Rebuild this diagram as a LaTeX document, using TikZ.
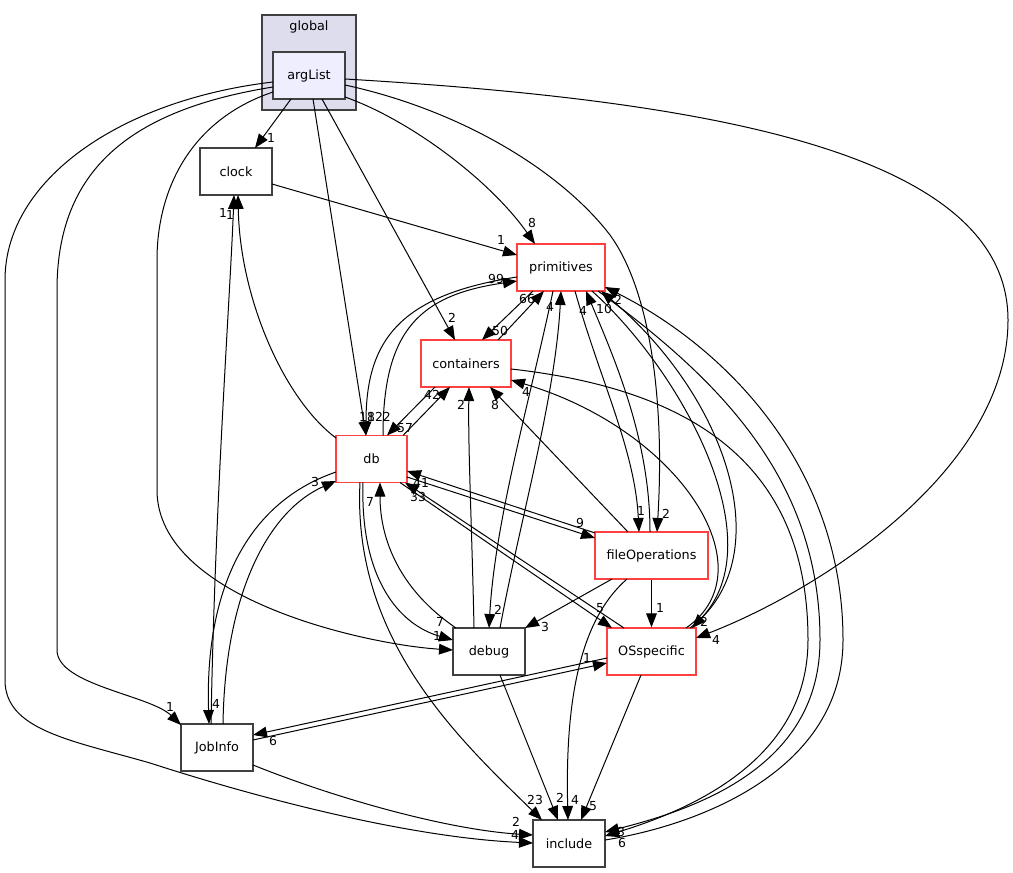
\documentclass[tikz,border=0pt]{standalone}
\usepackage{fontspec}
\setmainfont{DejaVu Sans}
\usetikzlibrary{arrows.meta,calc}
\definecolor{nodeborder}{HTML}{404040}
\definecolor{redborder}{HTML}{FF4040}
\definecolor{clusterfill}{HTML}{DDDDEE}
\definecolor{argfill}{HTML}{EEEEFF}
\begin{document}
\begin{tikzpicture}[x=0.75pt,y=-0.75pt,
  dirbox/.style={draw=nodeborder,line width=1pt,fill=white,minimum height=35.25pt,inner sep=0pt,font=\fontsize{9.6}{11}\selectfont},
  redbox/.style={dirbox,draw=redborder},
  lbl/.style={font=\fontsize{9.3}{10}\selectfont,inner sep=0pt},
  dep/.style={line width=0.75pt,-{Triangle[length=10.5pt,width=8pt]}}]
\useasboundingbox[fill=white] (0,0) rectangle (1013,873);
% cluster
\node[draw=nodeborder,line width=1pt,fill=clusterfill,minimum width=70.5pt,minimum height=71.25pt,inner sep=0pt] (global) at (309,62.5) {};
\node[font=\fontsize{9.6}{11}\selectfont,inner sep=0pt] (globallabel) at (309,27) {global};
% nodes
\node[dirbox,fill=argfill,minimum width=54pt] (argList) at (309,75.5) {argList};
\node[dirbox,minimum width=54pt] (clock) at (236,171.5) {clock};
\node[redbox,minimum width=66pt] (primitives) at (561,267.5) {primitives};
\node[redbox,minimum width=67.5pt] (containers) at (466,363.5) {containers};
\node[redbox,minimum width=53.25pt] (db) at (371.5,459) {db};
\node[redbox,minimum width=84.75pt] (fileOperations) at (651.5,555.5) {fileOperations};
\node[dirbox,minimum width=54pt] (debug) at (489,651.5) {debug};
\node[redbox,minimum width=66.75pt] (OSspecific) at (651.5,651.5) {OSspecific};
\node[dirbox,minimum width=54pt] (JobInfo) at (217,747.5) {JobInfo};
\node[dirbox,minimum width=54pt] (include) at (569,843.5) {include};
% edges from argList
\draw[dep] ($(argList)+(-18,23.5)$) -- ($(clock)+(19,-23.5)$);
\draw[dep] ($(argList)+(36,21.5)$) .. controls (410,120) and (490,180) .. ($(primitives)+(-26,-23.5)$);
\draw[dep] ($(argList)+(13,23.5)$) -- ($(containers)+(-11,-23.5)$);
\draw[dep] ($(argList)+(4,23.5)$) -- ($(db)+(-5.5,-23.5)$);
\draw[dep] ($(argList)+(36,9.5)$) .. controls (460,110) and (560,170) .. (610,235) .. controls (650,290) and (665,400) .. ($(fileOperations)+(5.5,-23.5)$);
\draw[dep] ($(argList)+(36,3.5)$) .. controls (700,100) and (1008,150) .. (1008,320) .. controls (1008,470) and (820,590) .. ($(OSspecific)+(44.5,-13.5)$);
\draw[dep] ($(argList)+(-36,16.5)$) .. controls (190,120) and (157,190) .. (157,260) -- (157,490) .. controls (157,600) and (370,645) .. ($(debug)+(-36,-1.5)$);
\draw[dep] ($(argList)+(-36,11.5)$) .. controls (130,110) and (57,170) .. (57,290) -- (57,650) .. controls (57,685) and (150,695) .. ($(JobInfo)+(-36,-22.5)$);
\draw[dep] ($(argList)+(-36,6.5)$) .. controls (120,100) and (5,180) .. (5,280) -- (5,680) .. controls (5,730) and (70,740) .. (150,763) .. controls (280,805) and (420,838) .. ($(include)+(-36,-0.5)$);
% clock
\draw[dep] ($(clock)+(36,12.5)$) -- ($(primitives)+(-44,-12.5)$);
% primitives / containers / db
\draw[dep] ($(containers)+(32,-23.5)$) -- ($(primitives)+(-17,23.5)$);
\draw[dep] ($(primitives)+(-28,23.5)$) -- ($(containers)+(16,-23.5)$);
\draw[dep] ($(db)+(11.5,-23.5)$) .. controls (383,330) and (420,295) .. ($(primitives)+(-44,13.5)$);
\draw[dep] ($(primitives)+(-44,9.5)$) .. controls (400,295) and (366,340) .. ($(db)+(-5.5,-23.5)$);
\draw[dep] ($(db)+(-35.5,-21)$) .. controls (285,400) and (240,300) .. ($(clock)+(2,23.5)$);
\draw[dep] ($(JobInfo)+(-6,-23.5)$) .. controls (215,500) and (230,300) .. ($(clock)+(-2,23.5)$);
\draw[dep] ($(containers)+(-31,23.5)$) -- ($(db)+(15.5,-23.5)$);
\draw[dep] ($(db)+(31.5,-23.5)$) -- ($(containers)+(-16,23.5)$);
\draw[dep] ($(debug)+(-15,-23.5)$) .. controls (472,530) and (468,450) .. ($(containers)+(3,23.5)$);
\draw[dep] ($(fileOperations)+(-23.5,-23.5)$) -- ($(containers)+(24,23.5)$);
\draw[dep] ($(OSspecific)+(34.5,-23.5)$) .. controls (770,570) and (680,430) .. ($(containers)+(45,16.5)$);
\draw[dep] ($(containers)+(45,5.5)$) .. controls (700,390) and (808,470) .. (808,640) .. controls (808,760) and (690,810) .. ($(include)+(36,-7.5)$);
\draw[dep] ($(primitives)+(37,23.5)$) .. controls (720,380) and (820,480) .. (820,640) .. controls (820,765) and (700,808) .. ($(include)+(36,-11.5)$);
\draw[dep] ($(include)+(36,-3.5)$) .. controls (700,825) and (843,770) .. (843,640) .. controls (843,470) and (730,350) .. ($(primitives)+(44,19.5)$);
\draw[dep] ($(primitives)+(14,23.5)$) .. controls (600,380) and (635,450) .. ($(fileOperations)+(-12.5,-23.5)$);
\draw[dep] ($(fileOperations)+(-1.5,-23.5)$) .. controls (650,440) and (615,360) .. ($(primitives)+(25,23.5)$);
\draw[dep] ($(OSspecific)+(38.5,-23.5)$) .. controls (780,560) and (730,400) .. ($(primitives)+(40,23.5)$);
\draw[dep] ($(primitives)+(31,23.5)$) .. controls (680,370) and (775,540) .. ($(OSspecific)+(40.5,-23.5)$);
% db
\draw[dep] ($(db)+(35.5,18)$) -- ($(fileOperations)+(-56.5,-17.5)$);
\draw[dep] ($(fileOperations)+(-56.5,-22.5)$) -- ($(db)+(35.5,12)$);
\draw[dep] ($(db)+(28.5,23.5)$) -- ($(OSspecific)+(-39.5,-23.5)$);
\draw[dep] ($(OSspecific)+(-27.5,-23.5)$) -- ($(db)+(33.5,23.5)$);
\draw[dep] ($(db)+(-8.5,23.5)$) .. controls (360,580) and (400,625) .. ($(debug)+(-36,-11.5)$);
\draw[dep] ($(debug)+(-33,-23.5)$) .. controls (400,590) and (380,540) .. ($(db)+(8.5,23.5)$);
\draw[dep] ($(db)+(-11.5,23.5)$) .. controls (352,640) and (460,740) .. ($(include)+(-27,-23.5)$);
\draw[dep] ($(db)+(-35.5,13)$) .. controls (240,505) and (205,600) .. ($(JobInfo)+(-8,-23.5)$);
\draw[dep] ($(JobInfo)+(6,-23.5)$) .. controls (225,590) and (270,510) .. ($(db)+(-35.5,22)$);
% debug
\draw[dep] ($(debug)+(11,-23.5)$) .. controls (520,520) and (555,400) .. ($(primitives)+(0,23.5)$);
\draw[dep] ($(primitives)+(-8,23.5)$) .. controls (530,400) and (495,520) .. ($(debug)+(0,-23.5)$);
\draw[dep] ($(debug)+(11,23.5)$) -- ($(include)+(-11,-23.5)$);
% fileOperations / OSspecific / JobInfo
\draw[dep] ($(fileOperations)+(-24.5,23.5)$) .. controls (580,620) and (565,700) .. ($(include)+(-1,-23.5)$);
\draw[dep] ($(OSspecific)+(-10.5,23.5)$) -- ($(include)+(12,-23.5)$);
\draw[dep] ($(fileOperations)+(-39.5,23.5)$) -- ($(debug)+(36,-23.5)$);
\draw[dep] (fileOperations) -- (OSspecific);
\draw[dep] ($(JobInfo)+(36,-7.5)$) -- ($(OSspecific)+(-44.5,11.5)$);
\draw[dep] ($(OSspecific)+(-44.5,6.5)$) -- ($(JobInfo)+(36,-12.5)$);
\draw[dep] ($(JobInfo)+(36,17.5)$) .. controls (340,800) and (450,830) .. ($(include)+(-36,-8.5)$);
% labels
\node[lbl] (la1) at (271,138) {1};
\node[lbl] (la2) at (532,223) {8};
\node[lbl] (la3) at (452,318) {2};
\node[lbl] (la4) at (367,417) {18};
\node[lbl] (la4b) at (379,417) {122};
\node[lbl] (la5) at (666,514) {2};
\node[lbl] (la6) at (716,640) {4};
\node[lbl] (la7) at (437,636) {1};
\node[lbl] (la8) at (170,707) {1};
\node[lbl] (la9) at (515,835) {4};
\node[lbl] (lb1) at (501,240) {1};
\node[lbl] (lb2) at (527,299) {66};
\node[lbl] (lb3) at (500,331) {50};
\node[lbl] (lb4) at (496,279) {99};
\node[lbl] (lb5) at (230,215) {1};
\node[lbl] (lb6) at (223,213) {1};
\node[lbl] (lb7) at (405,428) {57};
\node[lbl] (lb8) at (432,395) {42};
\node[lbl] (lb9) at (461,405) {2};
\node[lbl] (lc1) at (495,405) {8};
\node[lbl] (lc2) at (526,392) {4};
\node[lbl] (lc3) at (622,843) {6};
\node[lbl] (lc4) at (621,832) {3};
\node[lbl] (lc5) at (618,300) {2};
\node[lbl] (lc6) at (604,309) {10};
\node[lbl] (lc7) at (583,311) {4};
\node[lbl] (lc8) at (550,307) {4};
\node[lbl] (lc9) at (641,511) {1};
\node[lbl] (ld1) at (704,622) {2};
\node[lbl] (ld2) at (498,610) {2};
\node[lbl] (ld3) at (580,523) {9};
\node[lbl] (ld4) at (421,483) {41};
\node[lbl] (ld5) at (418,497) {33};
\node[lbl] (ld6) at (600,608) {5};
\node[lbl] (ld7) at (440,622) {7};
\node[lbl] (ld8) at (370,502) {7};
\node[lbl] (ld9) at (535,800) {23};
\node[lbl] (le1) at (216,704) {4};
\node[lbl] (le2) at (315,482) {3};
\node[lbl] (le3) at (560,798) {2};
\node[lbl] (le4) at (575,800) {4};
\node[lbl] (le5) at (593,806) {5};
\node[lbl] (le6) at (545,627) {3};
\node[lbl] (le7) at (660,608) {1};
\node[lbl] (le8) at (587,658) {1};
\node[lbl] (le9) at (273,741) {6};
\node[lbl] (lf1) at (516,822) {2};
\end{tikzpicture}
\end{document}
